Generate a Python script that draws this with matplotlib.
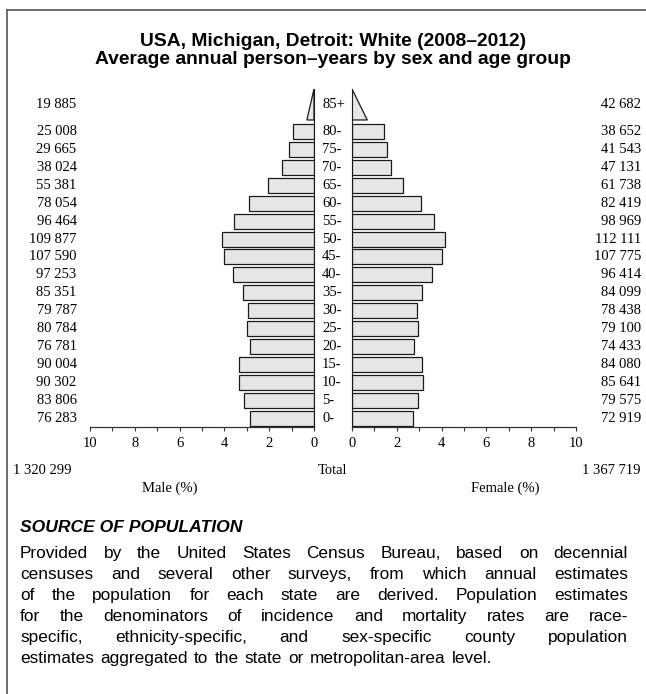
import matplotlib
matplotlib.use('Agg')
import matplotlib.pyplot as plt
from matplotlib.lines import Line2D

# data
ages = ['0-', '5-', '10-', '15-', '20-', '25-', '30-', '35-', '40-', '45-',
        '50-', '55-', '60-', '65-', '70-', '75-', '80-', '85+']
male = [76283, 83806, 90302, 90004, 76781, 80784, 79787, 85351, 97253, 107590,
        109877, 96464, 78054, 55381, 38024, 29665, 25008, 19885]
female = [72919, 79575, 85641, 84080, 74433, 79100, 78438, 84099, 96414, 107775,
          112111, 98969, 82419, 61738, 47131, 41543, 38652, 42682]
male_total = 1320299
female_total = 1367719
ticks = [0, 2, 4, 6, 8, 10]

title = 'USA, Michigan, Detroit: White (2008\u20132012)\nAverage annual person\u2013years by sex and age group'
source_head = 'SOURCE OF POPULATION'
source_lines = [
    'Provided by the United States Census Bureau, based on decennial',
    'censuses and several other surveys, from which annual estimates',
    'of the population for each state are derived. Population estimates',
    'for the denominators of incidence and mortality rates are race-',
    'specific, ethnicity-specific, and sex-specific county population',
    'estimates aggregated to the state or metropolitan-area level.',
]

W, H = 646, 694
grand = male_total + female_total
male_pct = [v / grand * 100 for v in male]
female_pct = [v / grand * 100 for v in female]

serif = 'Liberation Serif'
sans = 'Liberation Sans'
bar_fc = '#e6e6e6'
bar_ec = '#1a1a1a'


def fx(x):
    return x / W


def fy(y):
    return 1 - y / H


def fmt(n):
    return f'{n:,}'.replace(',', ' ')


fig = plt.figure(figsize=(W / 100, H / 100), dpi=100)

# frame lines
fig.add_artist(Line2D([fx(7), fx(646)], [fy(10), fy(10)], color='#555555', lw=1.2))
fig.add_artist(Line2D([fx(7), fx(7)], [fy(10), fy(694)], color='#555555', lw=1.2))

fig.text(fx(333), fy(50.5), title, ha='center', va='center', fontsize=13.9,
         fontweight='bold', family=sans, linespacing=1.12)

ax_bottom = fy(427)
ax_h = (427 - 89) / H
axm = fig.add_axes([fx(90), ax_bottom, 224 / W, ax_h])
axf = fig.add_axes([fx(352), ax_bottom, 224 / W, ax_h])

n = len(ages) - 1
ypos = list(range(n))
label_y = ypos + [n + 0.5]   # open-ended group sits in the middle of its triangle
tri_lo, tri_hi = n - 0.35, n + 1.38
tri_k = 0.43

for ax, pct in [(axm, male_pct), (axf, female_pct)]:
    ax.barh(ypos, pct[:n], height=0.84, color=bar_fc, edgecolor=bar_ec, linewidth=0.9)
    w = pct[n] * tri_k
    ax.fill([0, w, 0], [tri_lo, tri_lo, tri_hi], facecolor=bar_fc, edgecolor=bar_ec,
            linewidth=0.9)
    ax.set_ylim(-0.5, tri_hi)
    ax.set_xticks(range(0, 11))
    ax.set_xticklabels([str(t) if t in ticks else '' for t in range(0, 11)],
                       family=serif, fontsize=10.5)
    ax.tick_params(axis='x', direction='out', length=3, width=0.8, pad=4, color='#333333')
    ax.set_yticks([])
    for s in ['top', 'left', 'right']:
        ax.spines[s].set_visible(False)
    ax.spines['bottom'].set_color('#333333')
    ax.spines['bottom'].set_linewidth(0.9)
    ax.patch.set_alpha(0)

axm.set_xlim(10, 0)
axf.set_xlim(0, 10)
axm.spines['right'].set_visible(True)
axm.spines['right'].set_color(bar_ec)
axf.spines['left'].set_visible(True)
axf.spines['left'].set_color(bar_ec)

# labels per age group
for i, age in enumerate(ages):
    yy = label_y[i]
    axm.text(-0.06, yy, fmt(male[i]), transform=axm.get_yaxis_transform(),
             ha='right', va='center', family=serif, fontsize=10.5)
    axf.text(1.29, yy, fmt(female[i]), transform=axf.get_yaxis_transform(),
             ha='right', va='center', family=serif, fontsize=10.5)
    axm.text(1.036, yy, age, transform=axm.get_yaxis_transform(),
             ha='left', va='center', family=serif, fontsize=10.5)

fig.text(fx(13), fy(470), fmt(male_total), ha='left', va='center', family=serif, fontsize=10.5)
fig.text(fx(333), fy(470), 'Total', ha='center', va='center', family=serif, fontsize=10.5)
fig.text(fx(641), fy(470), fmt(female_total), ha='right', va='center', family=serif, fontsize=10.5)
fig.text(fx(170), fy(488), 'Male (%)', ha='center', va='center', family=serif, fontsize=10.5)
fig.text(fx(505), fy(488), 'Female (%)', ha='center', va='center', family=serif, fontsize=10.5)

# source section
fig.text(fx(20), fy(528), source_head, ha='left', va='center', family=sans,
         fontsize=12.6, fontweight='bold', fontstyle='italic')

# justified paragraph, word by word
renderer = fig.canvas.get_renderer()
x0, x1 = 20, 628
fs = 12.4
sp = fig.text(0, 0, 'a a', family=sans, fontsize=fs)
sp2 = fig.text(0, 0, 'aa', family=sans, fontsize=fs)
space_w = sp.get_window_extent(renderer).width - sp2.get_window_extent(renderer).width + 1.5
sp.remove()
sp2.remove()

for k, line in enumerate(source_lines):
    y = 553 + k * 21 + 5
    words = line.split()
    texts = [fig.text(0, fy(y), wd, ha='left', va='baseline', family=sans, fontsize=fs)
             for wd in words]
    widths = [t.get_window_extent(renderer).width for t in texts]
    if k < len(source_lines) - 1:
        gap = (x1 - x0 - sum(widths)) / (len(words) - 1)
    else:
        gap = space_w
    x = x0
    for t, wdt in zip(texts, widths):
        t.set_x(fx(x))
        x += wdt + gap

fig.savefig('out.png', dpi=100)
